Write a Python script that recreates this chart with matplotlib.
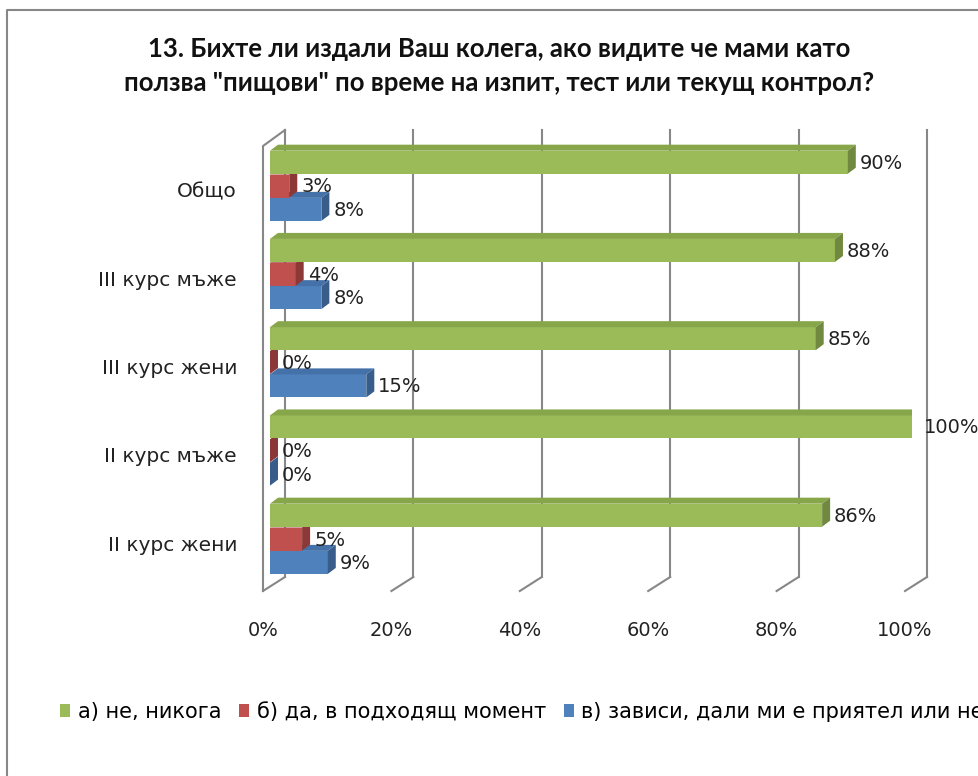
import matplotlib.pyplot as plt
from matplotlib.patches import Polygon, Patch
from matplotlib.lines import Line2D

# data (bottom to top, as drawn)
categories = ['II курс жени', 'II курс мъже', 'III курс жени', 'III курс мъже', 'Общо']
never = [86, 100, 85, 88, 90]
yes_moment = [5, 0, 0, 4, 3]
depends = [9, 0, 15, 8, 8]
ticks = [0, 20, 40, 60, 80, 100]
series_names = ['а) не, никога', 'б) да, в подходящ момент', 'в) зависи, дали ми е приятел или не']

title = '13. Бихте ли издали Ваш колега, ако видите че мами като\nползва "пищови" по време на изпит, тест или текущ контрол?'

# colors: front, top, side
green = ('#9BBB59', '#87A64A', '#71893F')
red = ('#C0504D', '#A94441', '#8C3836')
blue = ('#4F81BD', '#4471A8', '#385D8A')

W, H = 979, 776
fig = plt.figure(figsize=(W / 100, H / 100), dpi=100)

# plot area in pixels: x 0..100 -> 270..912, y 0 -> 539, 88.25 px per category
sx = 6.42
sy = 88.25
y0px = 539
top_px, bot_px = 120, 600
ax = fig.add_axes([270 / W, 1 - bot_px / H, 642 / W, (bot_px - top_px) / H])
ax.set_xlim(0, 100)
ax.set_ylim((y0px - bot_px) / sy, (y0px - top_px) / sy)
ax.axis('off')


def ypx(p):
    return (y0px - p) / sy


# back wall / floor grid
grid_c = '#878787'
back_dx, front_dx = 15 / sx, -7 / sx
floor_back, floor_front = ypx(577), ypx(591)
top_back, top_front = ypx(130), ypx(146)
for v in ticks:
    ax.plot([v + back_dx, v + back_dx], [floor_back, top_back], color=grid_c, lw=1.5, zorder=1, clip_on=False)
    ax.plot([v + back_dx, v + front_dx], [floor_back, floor_front], color=grid_c, lw=1.5, zorder=1, clip_on=False)
    ax.text(v + front_dx, ypx(630), f'{v}%', ha='center', va='center', fontsize=14, color='#222222')
# left wall
ax.plot([front_dx, front_dx, back_dx], [floor_front, top_front, top_back], color=grid_c, lw=1.5, zorder=1, clip_on=False)

# bars
h = 23 / sy
ddx, ddy = 8 / sx, 6 / sy
offsets = [-0.265, 0.0, 0.27]
series = [(depends, blue), (yes_moment, red), (never, green)]

z = 2
for i in range(len(categories)):
    for (vals, cols), off in zip(series, offsets):
        v = vals[i]
        yc = i + off
        yb, yt = yc - h / 2, yc + h / 2
        ax.barh(yc, v, height=h, color=cols[0], zorder=z)
        ax.add_patch(Polygon([(0, yt), (v, yt), (v + ddx, yt + ddy), (ddx, yt + ddy)],
                             closed=True, facecolor=cols[1], edgecolor='none', zorder=z))
        ax.add_patch(Polygon([(v, yb), (v, yt), (v + ddx, yt + ddy), (v + ddx, yb + ddy)],
                             closed=True, facecolor=cols[2], edgecolor='none', zorder=z))
        ax.annotate(f'{v}%', (v + ddx, yc), xytext=(4, -1), textcoords='offset pixels',
                    ha='left', va='center', fontsize=14, color='#222222', zorder=50,
                    annotation_clip=False)
        z += 1
    ax.text(-33 / sx, i - 0.07, categories[i], ha='right', va='center', fontsize=14.5, color='#222222')

# title
fig.text(499 / W, 1 - 66 / H, title, ha='center', va='center', fontsize=18.5,
         fontweight='bold', family='Lato', linespacing=1.5, color='#111111')

# legend
handles = [Patch(facecolor=c[0], edgecolor='none') for c in (green, red, blue)]
fig.legend(handles, series_names, ncol=3, loc='center left', bbox_to_anchor=(60 / W, 1 - 712 / H),
           frameon=False, fontsize=15, handlelength=0.5, handleheight=0.6, handletextpad=0.35,
           columnspacing=0.85, borderaxespad=0, borderpad=0)

# outer chart border
fig.add_artist(Line2D([7 / W, 7 / W, 1], [0, 1 - 10 / H, 1 - 10 / H], color='#878787', lw=1.5))

fig.savefig('out.png', dpi=100)
